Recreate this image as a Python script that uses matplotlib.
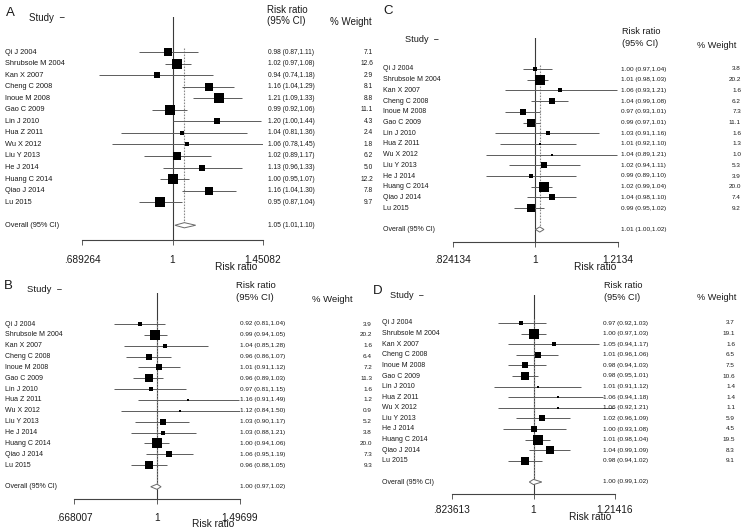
import matplotlib
matplotlib.use("Agg")
import matplotlib.pyplot as plt
import matplotlib.transforms as mtransforms
from matplotlib.patches import Polygon

plt.rcParams['font.family'] = ['Liberation Sans', 'DejaVu Sans']

studies = ["Qi J 2004", "Shrubsole M 2004", "Kan X 2007", "Cheng C 2008", "Inoue M 2008",
           "Gao C 2009", "Lin J 2010", "Hua Z 2011", "Wu X 2012", "Liu Y 2013", "He J 2014",
           "Huang C 2014", "Qiao J 2014", "Lu 2015"]

# Panel A
est_A = [0.98, 1.02, 0.94, 1.16, 1.21, 0.99, 1.20, 1.04, 1.06, 1.02, 1.13, 1.00, 1.16, 0.95]
lo_A = [0.87, 0.97, 0.74, 1.04, 1.09, 0.92, 1.00, 0.81, 0.78, 0.89, 0.96, 0.95, 1.04, 0.87]
hi_A = [1.11, 1.08, 1.18, 1.29, 1.33, 1.06, 1.44, 1.36, 1.45, 1.17, 1.33, 1.07, 1.30, 1.04]
w_A = [7.1, 12.6, 2.9, 8.1, 8.8, 11.1, 4.3, 2.4, 1.8, 6.2, 5.0, 12.2, 7.8, 9.7]
overall_A = [1.05, 1.01, 1.10]
ticks_A = [0.689264, 1, 1.45082]
ticklabels_A = [".689264", "1", "1.45082"]

# Panel B
est_B = [0.92, 0.99, 1.04, 0.96, 1.01, 0.96, 0.97, 1.16, 1.12, 1.03, 1.03, 1.00, 1.06, 0.96]
lo_B = [0.81, 0.94, 0.85, 0.86, 0.91, 0.89, 0.81, 0.91, 0.84, 0.90, 0.88, 0.94, 0.95, 0.88]
hi_B = [1.04, 1.05, 1.28, 1.07, 1.12, 1.03, 1.15, 1.49, 1.50, 1.17, 1.21, 1.06, 1.19, 1.05]
w_B = [3.9, 20.2, 1.6, 6.4, 7.2, 11.3, 1.6, 1.2, 0.9, 5.2, 3.8, 20.0, 7.3, 9.3]
overall_B = [1.00, 0.97, 1.02]
ticks_B = [0.668007, 1, 1.49699]
ticklabels_B = [".668007", "1", "1.49699"]

# Panel C
est_C = [1.00, 1.01, 1.06, 1.04, 0.97, 0.99, 1.03, 1.01, 1.04, 1.02, 0.99, 1.02, 1.04, 0.99]
lo_C = [0.97, 0.98, 0.93, 0.99, 0.93, 0.97, 0.91, 0.92, 0.89, 0.94, 0.89, 0.99, 0.98, 0.95]
hi_C = [1.04, 1.03, 1.21, 1.08, 1.01, 1.01, 1.16, 1.10, 1.21, 1.11, 1.10, 1.04, 1.10, 1.02]
w_C = [3.8, 20.2, 1.6, 6.2, 7.3, 11.1, 1.6, 1.3, 1.0, 5.3, 3.9, 20.0, 7.4, 9.2]
overall_C = [1.01, 1.00, 1.02]
ticks_C = [0.824134, 1, 1.2134]
ticklabels_C = [".824134", "1", "1.2134"]

# Panel D
est_D = [0.97, 1.00, 1.05, 1.01, 0.98, 0.98, 1.01, 1.06, 1.06, 1.02, 1.00, 1.01, 1.04, 0.98]
lo_D = [0.92, 0.97, 0.94, 0.96, 0.94, 0.95, 0.91, 0.94, 0.92, 0.96, 0.93, 0.98, 0.99, 0.94]
hi_D = [1.03, 1.03, 1.17, 1.06, 1.03, 1.01, 1.12, 1.18, 1.21, 1.09, 1.08, 1.04, 1.09, 1.02]
w_D = [3.7, 19.1, 1.6, 6.5, 7.5, 10.6, 1.4, 1.4, 1.1, 5.9, 4.5, 19.5, 8.3, 9.1]
overall_D = [1.00, 0.99, 1.02]
ticks_D = [0.823613, 1, 1.21416]
ticklabels_D = [".823613", "1", "1.21416"]

W, H = 750, 530
fig = plt.figure(figsize=(7.5, 5.3), dpi=100)

def fx(x):
    return x / W

def fy(y):
    return 1 - y / H

layouts = {
    "A": dict(letter=(6, 13), study=(29, 18), rr=(267, 10, 21), wt=(330, 22), label_x=5, ci_x=268,
              wt_right=373, ax_x=(82, 263), row0=52, step=11.55, top=17, base=240, tl_y=258,
              xlabel=(236, 267), fs_hdr=7.0, fs_lab=5.3, fs_ci=4.8),
    "B": dict(letter=(4, 286), study=(27, 289), rr=(236, 285, 297), wt=(312, 299), label_x=5, ci_x=240,
              wt_right=372, ax_x=(74, 240), row0=324, step=10.85, top=293, base=499, tl_y=516,
              xlabel=(213, 524), fs_hdr=6.8, fs_lab=5.0, fs_ci=4.6),
    "C": dict(letter=(383, 11), study=(405, 39), rr=(622, 31, 44), wt=(697, 45), label_x=383, ci_x=621,
              wt_right=741, ax_x=(453, 618), row0=69, step=10.7, top=38, base=242, tl_y=258,
              xlabel=(595, 267), fs_hdr=6.6, fs_lab=5.0, fs_ci=4.6),
    "D": dict(letter=(373, 291), study=(390, 295), rr=(604, 285, 297), wt=(697, 298), label_x=382, ci_x=603,
              wt_right=735, ax_x=(452, 615), row0=323, step=10.6, top=295, base=494, tl_y=508,
              xlabel=(590, 517), fs_hdr=6.6, fs_lab=5.0, fs_ci=4.6),
}

data = {
    "A": (est_A, lo_A, hi_A, w_A, overall_A, ticks_A, ticklabels_A),
    "B": (est_B, lo_B, hi_B, w_B, overall_B, ticks_B, ticklabels_B),
    "C": (est_C, lo_C, hi_C, w_C, overall_C, ticks_C, ticklabels_C),
    "D": (est_D, lo_D, hi_D, w_D, overall_D, ticks_D, ticklabels_D),
}

txt_col = "#1a1a1a"
line_col = "#5c5c5c"

for key, L in layouts.items():
    est, lo, hi, w, ov, ticks, tlabels = data[key]
    n = len(studies)
    rows = list(range(n))
    ov_row = n + 1

    x0, x1 = L["ax_x"]
    ax = fig.add_axes([fx(x0), fy(L["base"]), (x1 - x0) / W, (L["base"] - L["top"]) / H])
    ax.set_xscale("log")
    ax.set_xlim(ticks[0], ticks[-1])
    row_of = lambda py: (py - L["row0"]) / L["step"]
    ax.set_ylim(row_of(L["base"]), row_of(L["top"]))
    ax.patch.set_visible(False)
    for s in ("top", "left", "right"):
        ax.spines[s].set_visible(False)
    ax.spines["bottom"].set_color("#444444")
    ax.spines["bottom"].set_linewidth(0.8)
    ax.set_yticks([])
    ax.set_xticks(ticks)
    ax.set_xticklabels(tlabels)
    ax.xaxis.set_minor_locator(matplotlib.ticker.NullLocator())
    ax.tick_params(axis="x", direction="out", length=3.5, width=0.6, color="#444444",
                   labelsize=7.3, labelcolor=txt_col,
                   pad=(L["tl_y"] - L["base"] - 8) * 0.72)

    # reference line at 1
    ax.axvline(1, color="#3a3a3a", lw=0.8, zorder=1)
    # overall dashed line
    ax.vlines(ov[0], -0.35, ov_row - 0.2, colors="#8a8a8a", lw=0.8,
              linestyles=(0, (1.5, 1.2)), zorder=1)
    # CI lines
    ax.hlines(rows, lo, hi, colors=line_col, lw=0.7, zorder=2)
    # weight boxes
    wmax = max(w)
    for r, e, wi in zip(rows, est, w):
        side = 7.9 * (wi / wmax) ** 0.5
        ax.plot([e], [r], marker="s", markersize=side, color="black", mew=0, zorder=3)
    # diamond
    hd = 2.6 / L["step"]
    dia = Polygon([(ov[1], ov_row), (ov[0], ov_row - hd), (ov[2], ov_row), (ov[0], ov_row + hd)],
                  closed=True, facecolor="white", edgecolor="#6a6a6a", lw=0.7, zorder=4)
    ax.add_patch(dia)

    tr = mtransforms.blended_transform_factory(fig.transFigure, ax.transData)
    for r, s, e, l, h, wi in zip(rows, studies, est, lo, hi, w):
        fig.text(fx(L["label_x"]), r, s, transform=tr, ha="left", va="center",
                 fontsize=L["fs_lab"], color=txt_col)
        fig.text(fx(L["ci_x"]), r, f"{e:.2f} ({l:.2f},{h:.2f})", transform=tr, ha="left",
                 va="center", fontsize=L["fs_ci"], color=txt_col)
        fig.text(fx(L["wt_right"]), r, f"{wi:.1f}", transform=tr, ha="right", va="center",
                 fontsize=L["fs_ci"], color=txt_col)
    fig.text(fx(L["label_x"]), ov_row, "Overall (95% CI)", transform=tr, ha="left", va="center",
             fontsize=L["fs_lab"], color=txt_col)
    fig.text(fx(L["ci_x"]), ov_row, f"{ov[0]:.2f} ({ov[1]:.2f},{ov[2]:.2f})", transform=tr,
             ha="left", va="center", fontsize=L["fs_ci"], color=txt_col)

    # headers
    fig.text(fx(L["letter"][0]), fy(L["letter"][1]), key, ha="left", va="center",
             fontsize=9.5, color=txt_col)
    fig.text(fx(L["study"][0]), fy(L["study"][1]), "Study  \u2212", ha="left", va="center",
             fontsize=L["fs_hdr"], color=txt_col)
    fig.text(fx(L["rr"][0]), fy(L["rr"][1]), "Risk ratio", ha="left", va="center",
             fontsize=L["fs_hdr"], color=txt_col)
    fig.text(fx(L["rr"][0]), fy(L["rr"][2]), "(95% CI)", ha="left", va="center",
             fontsize=L["fs_hdr"], color=txt_col)
    fig.text(fx(L["wt"][0]), fy(L["wt"][1]), "% Weight", ha="left", va="center",
             fontsize=L["fs_hdr"], color=txt_col)
    fig.text(fx(L["xlabel"][0]), fy(L["xlabel"][1]), "Risk ratio", ha="center", va="center",
             fontsize=7.3, color=txt_col)

fig.savefig("out.png", dpi=100, facecolor="white")
